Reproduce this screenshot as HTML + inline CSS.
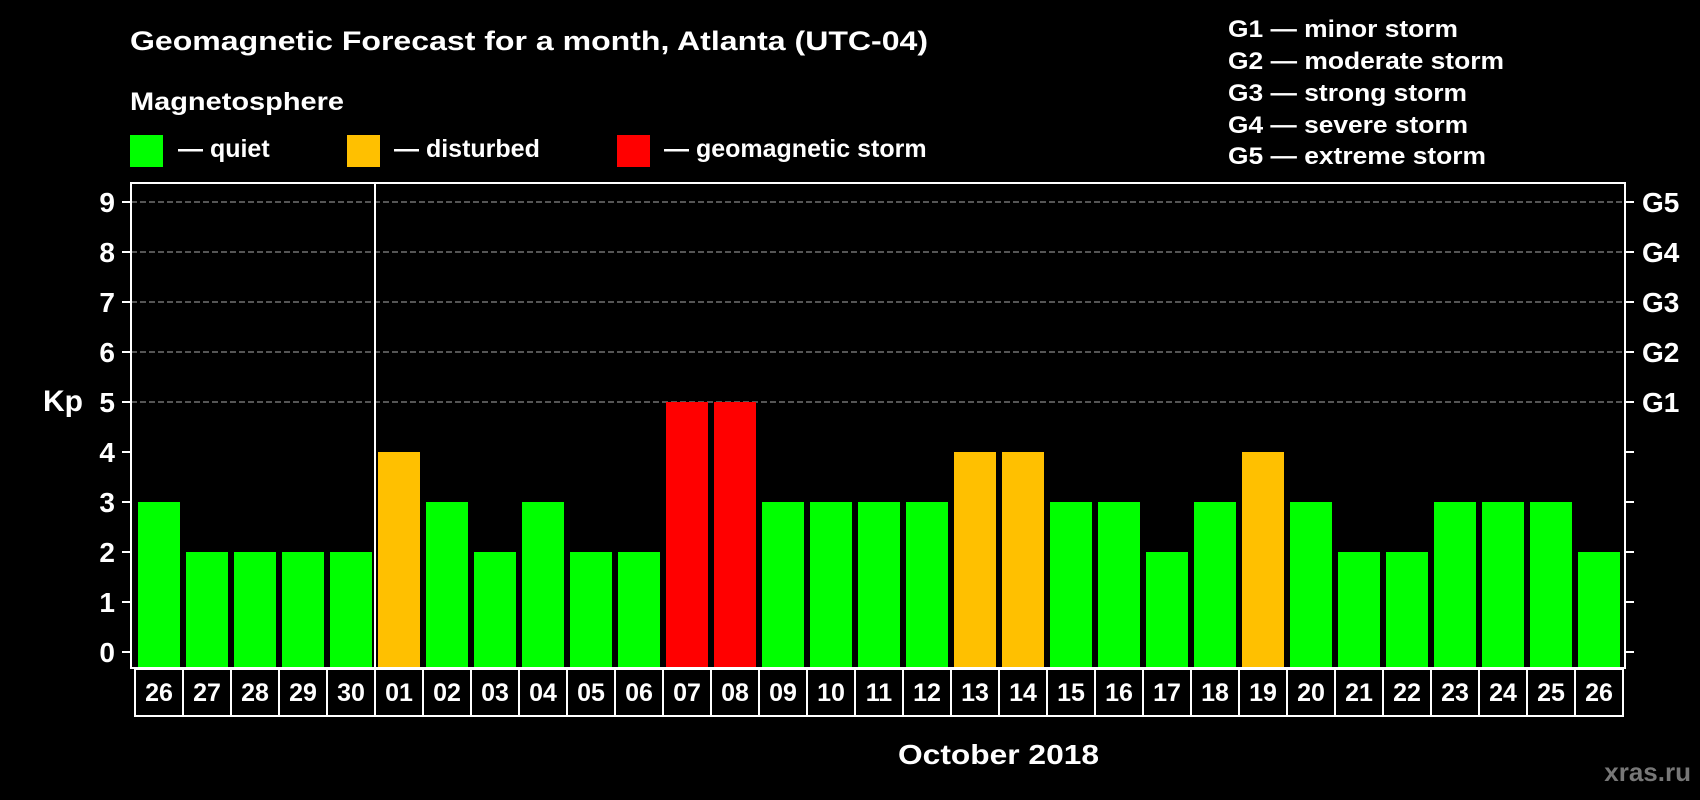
<!DOCTYPE html>
<html><head><meta charset="utf-8"><style>
html,body{margin:0;padding:0;background:#000;}
svg{display:block;font-family:"Liberation Sans",Arial,sans-serif;font-weight:bold;}
</style></head><body>
<svg id="chart" width="1700" height="800" viewBox="0 0 1700 800">
<rect width="1700" height="800" fill="#000"/>
<text x="130" y="50" font-size="27" fill="#fff" textLength="798" lengthAdjust="spacingAndGlyphs">Geomagnetic Forecast for a month, Atlanta (UTC-04)</text>
<text x="130" y="110" font-size="25" fill="#fff" textLength="214" lengthAdjust="spacingAndGlyphs">Magnetosphere</text>
<g>
<rect x="130" y="135" width="33" height="32" fill="#00ff00"/>
<text x="178" y="157" font-size="25" fill="#fff">— quiet</text></g>
<g>
<rect x="347" y="135" width="33" height="32" fill="#ffc000"/>
<text x="394" y="157" font-size="25" fill="#fff">— disturbed</text></g>
<g>
<rect x="617" y="135" width="33" height="32" fill="#ff0000"/>
<text x="664" y="157" font-size="25" fill="#fff">— geomagnetic storm</text></g>
<g font-size="24" fill="#fff">
<text x="1228" y="37" textLength="230" lengthAdjust="spacingAndGlyphs">G1 — minor storm</text>
<text x="1228" y="69" textLength="276" lengthAdjust="spacingAndGlyphs">G2 — moderate storm</text>
<text x="1228" y="101" textLength="239" lengthAdjust="spacingAndGlyphs">G3 — strong storm</text>
<text x="1228" y="133" textLength="240" lengthAdjust="spacingAndGlyphs">G4 — severe storm</text>
<text x="1228" y="164" textLength="258" lengthAdjust="spacingAndGlyphs">G5 — extreme storm</text>
</g>
<text x="43" y="411" font-size="30" fill="#fff">Kp</text>
<text x="898" y="764" font-size="28" fill="#fff" textLength="201" lengthAdjust="spacingAndGlyphs">October 2018</text>
<text x="1691" y="781" font-size="26" fill="#777" text-anchor="end">xras.ru</text>
<g id="grid"></g><g id="bars"></g><g id="axes"></g><g id="dates"></g>
</svg>
<script>
const dayLabels=["26","27","28","29","30","01","02","03","04","05","06","07","08","09","10","11","12","13","14","15","16","17","18","19","20","21","22","23","24","25","26"];
const kpValues=[3,2,2,2,2,4,3,2,3,2,2,5,5,3,3,3,3,4,4,3,3,2,3,4,3,2,2,3,3,3,2];
const yTicks=[0,1,2,3,4,5,6,7,8,9];
const gLabels=["G1","G2","G3","G4","G5"];
const gLevels=[5,6,7,8,9];
const monthStartIndex=5;

const NS="http://www.w3.org/2000/svg";
const L=131,R=1625,T=183,B=668,Y0=652,UNIT=50,X0=135,STEP=48;
function y(v){return Y0-v*UNIT;}
function x(i){return X0+i*STEP;}
function mk(tag,attrs,parent){const e=document.createElementNS(NS,tag);for(const k in attrs)e.setAttribute(k,attrs[k]);parent.appendChild(e);return e;}
function color(v){return v>=5?"#ff0000":(v>=4?"#ffc000":"#00ff00");}
const grid=document.getElementById('grid'),bars=document.getElementById('bars'),axes=document.getElementById('axes'),dates=document.getElementById('dates');

gLevels.forEach((g,k)=>{
  const l=mk('line',{x1:L,x2:R,y1:y(g),y2:y(g),stroke:"#888","stroke-width":1.3,"stroke-dasharray":"6 3"},grid);
  
  
  const t=mk('text',{x:1642,y:y(g)+10,"font-size":28,fill:"#fff"},axes);
  t.textContent=gLabels[k];
  
  
});
kpValues.forEach((v,i)=>{
  const r=mk('rect',{x:x(i)+3,y:y(v),width:42,height:B-y(v),fill:color(v)},bars);
  
  
  const bx=mk('rect',{x:x(i),y:B+1,width:STEP,height:47,fill:"none",stroke:"#fff","stroke-width":2},dates);
  
  
  const t=mk('text',{x:x(i)+STEP/2,y:701,"font-size":25,fill:"#fff","text-anchor":"middle"},dates);
  t.textContent=dayLabels[i];
  
  
});
yTicks.forEach(v=>{
  const a=mk('line',{x1:122,x2:L,y1:y(v),y2:y(v),stroke:"#fff","stroke-width":2},axes);
  
  
  const b=mk('line',{x1:R,x2:1634,y1:y(v),y2:y(v),stroke:"#fff","stroke-width":2},axes);
  
  
  const t=mk('text',{x:115,y:y(v)+10,"font-size":28,fill:"#fff","text-anchor":"end"},axes);
  t.textContent=v;
  
  
});
const fr=mk('rect',{x:L,y:T,width:R-L,height:B-T,fill:"none",stroke:"#fff","stroke-width":2},axes);


const dx=x(monthStartIndex);
const dv=mk('line',{x1:dx,x2:dx,y1:T,y2:B,stroke:"#fff","stroke-width":2},axes);


</script>
</body></html>
